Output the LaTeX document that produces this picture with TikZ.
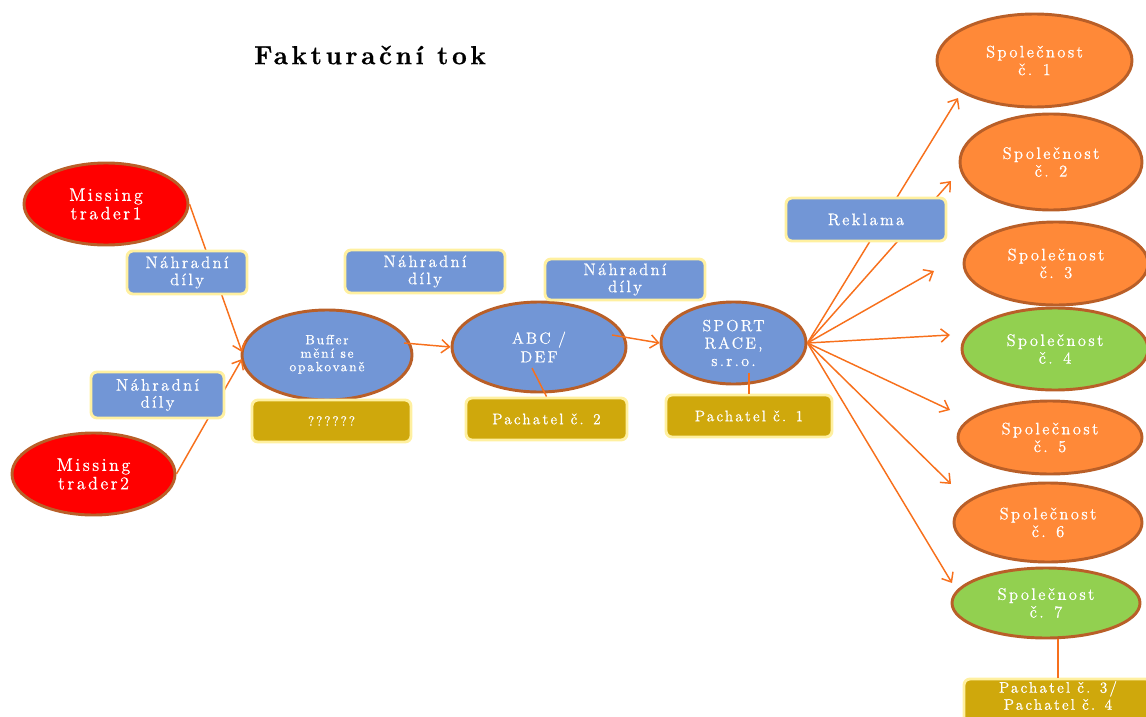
\documentclass[tikz,border=0pt]{standalone}
\usepackage{fontspec}
\setmainfont{Latin Modern Roman}[RawFeature={embolden=0.7},RawFeature={letterspace=14}]
\usetikzlibrary{shapes.geometric,arrows.meta}
\definecolor{blueF}{RGB}{114,150,214}
\definecolor{redF}{RGB}{255,0,0}
\definecolor{orangeF}{RGB}{255,137,56}
\definecolor{greenF}{RGB}{146,208,80}
\definecolor{goldF}{RGB}{207,168,12}
\definecolor{brownB}{RGB}{185,95,40}
\definecolor{yellowB}{RGB}{255,240,160}
\definecolor{lineC}{RGB}{247,112,28}
\begin{document}
\begin{tikzpicture}[x=0.75pt,y=-0.75pt,
  esize/.style 2 args={minimum width=#1*0.75pt,minimum height=#2*0.75pt},
  ellbase/.style={ellipse,draw=brownB,line width=2.2pt,inner sep=0pt,text=white,align=center,
    font=\fontsize{12.5}{13.3}\selectfont},
  redell/.style={ellbase,fill=redF},
  blueell/.style={ellbase,fill=blueF},
  orangeell/.style={ellbase,fill=orangeF},
  greenell/.style={ellbase,fill=greenF},
  lbox/.style={rectangle,rounded corners=4.5pt,draw=yellowB,line width=2.2pt,fill=blueF,
    text=white,align=center,inner sep=0pt,font=\fontsize{12.5}{12.8}\selectfont},
  gbox/.style={lbox,fill=goldF,font=\fontsize{11.5}{12.8}\selectfont},
  conn/.style={draw=lineC,line width=1.1pt},
  arr/.style={conn,-{Straight Barb[length=6pt,width=10pt]}}
]
\useasboundingbox (0,0) rectangle (1146,717);
\clip (0,0) rectangle (1146,717);

% title
\node[font=\fontsize{19.5}{22}\selectfont\bfseries] (title) at (370,55) {Fakturační tok};

% ellipses
\node[redell,esize={164}{82},font=\fontsize{13.5}{13.9}\selectfont] (t1) at (106,204) {Missing\\trader1};
\node[redell,esize={163}{82},font=\fontsize{13.5}{13.9}\selectfont] (t2) at (93.5,474) {Missing\\trader2};
\node[blueell,esize={170}{90},font=\fontsize{10}{10.1}\selectfont] (buffer) at (327,355)
  {\raisebox{4pt}{\begin{tabular}{@{}c@{}}Buffer\\mění se\\opakovaně\end{tabular}}};
\node[blueell,esize={174}{90},font=\fontsize{12}{14}\selectfont] (abc) at (539,347) {ABC /\\DEF};
\node[blueell,esize={145}{82},font=\fontsize{12}{13.1}\selectfont] (sport) at (733.5,343) {SPORT\\RACE,\\s.r.o.};

\node[orangeell,esize={195}{93}] (c1) at (1034.5,60.5) {Společnost\\č. 1};
\node[orangeell,esize={182}{96}] (c2) at (1051,162) {Společnost\\č. 2};
\node[orangeell,esize={184}{83}] (c3) at (1056,263.5) {Společnost\\č. 3};
\node[greenell,esize={186}{82}] (c4) at (1055,349) {Společnost\\č. 4};
\node[orangeell,esize={184}{73}] (c5) at (1050,437.5) {Společnost\\č. 5};
\node[orangeell,esize={188}{79}] (c6) at (1048,522.5) {Společnost\\č. 6};
\node[greenell,esize={188}{70}] (c7) at (1046,603) {Společnost\\č. 7};

% free ends of connectors
\coordinate (bufin1) at (242,352);
\coordinate (bufin2) at (242,359);
\coordinate (bufout) at (404,343);
\coordinate (abcout) at (612,335);
\coordinate (abcin) at (532,368);
\coordinate (sportin) at (749,373);
\coordinate (a1) at (958,98);
\coordinate (a2) at (951,181);
\coordinate (a3) at (934,271);
\coordinate (a4) at (950,335);
\coordinate (a5) at (950,410);
\coordinate (a6) at (951,484);
\coordinate (a7) at (952,583);

% connectors
\draw[arr] (t1.east) -- (bufin1);
\draw[arr] (t2.east) -- (bufin2);
\draw[arr] (bufout) -- (abc.west);
\draw[arr] (abcout) -- (sport.west);
\foreach \i in {1,...,7} \draw[arr] (sport.east) -- (a\i);

% label boxes
\node[lbox,minimum width=120*0.75pt,minimum height=43*0.75pt] (n1) at (187,272.5) {Náhradní\\díly};
\node[lbox,minimum width=133*0.75pt,minimum height=46*0.75pt] (n2) at (157.5,395) {Náhradní\\díly};
\node[lbox,minimum width=160*0.75pt,minimum height=43*0.75pt] (n3) at (425,271.5) {Náhradní\\díly};
\node[lbox,minimum width=160*0.75pt,minimum height=41*0.75pt] (n4) at (625,279.5) {Náhradní\\díly};
\node[lbox,minimum width=160*0.75pt,minimum height=43*0.75pt] (rek) at (866,219.5) {Reklama};

\node[gbox,minimum width=159*0.75pt,minimum height=42*0.75pt,font=\fontsize{10}{12}\selectfont] (q) at (331.5,421) {??????};
\node[gbox,minimum width=161*0.75pt,minimum height=42*0.75pt] (p2) at (546.5,419) {Pachatel č. 2};
\node[gbox,minimum width=166*0.75pt,minimum height=42*0.75pt] (p1) at (749,416) {Pachatel č. 1};
\node[gbox,minimum width=188*0.75pt,minimum height=62*0.75pt] (p34) at (1058,710)
  {Pachatel č. 3/\\Pachatel č. 4\\[9pt]};

\draw[conn] (abcin) -- (p2.north);
\draw[conn] (sportin) -- (p1.north);
\draw[conn] (c7.south -| p34.north) -- (p34.north);
\end{tikzpicture}
\end{document}
